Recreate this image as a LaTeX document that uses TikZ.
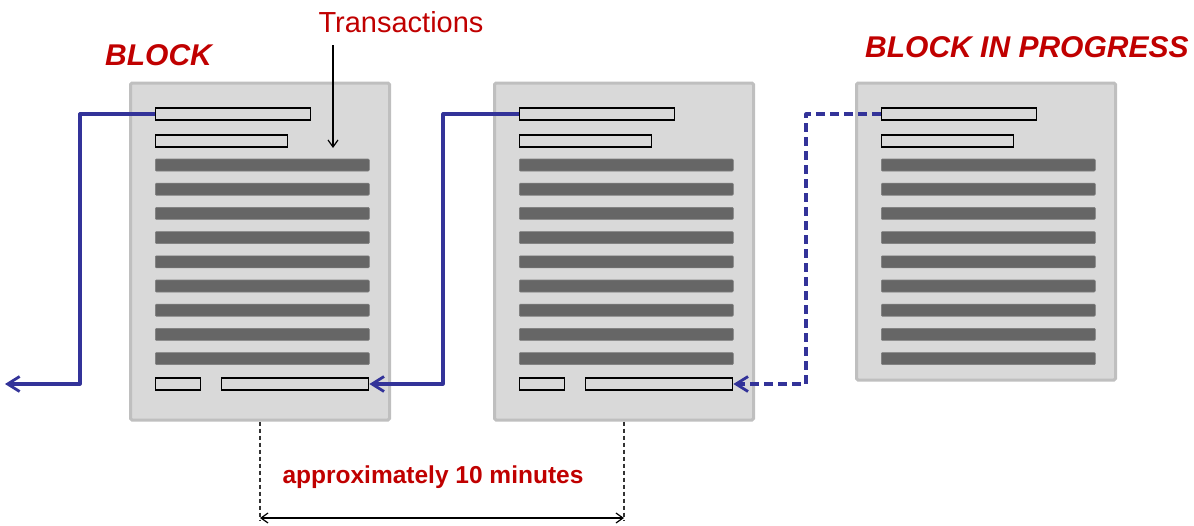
\documentclass[tikz,border=0pt]{standalone}
\usepackage{fontspec}
\setmainfont{Liberation Sans}
\usetikzlibrary{arrows.meta}
\definecolor{redtxt}{HTML}{C00000}
\definecolor{linkblue}{HTML}{333399}
\definecolor{pagefill}{HTML}{D9D9D9}
\definecolor{pageedge}{HTML}{BFBFBF}
\definecolor{bargray}{HTML}{666666}
\tikzset{
  page/.style={draw=pageedge, line width=3pt, fill=pagefill, rounded corners=1.5pt, inner sep=0pt, minimum width=259pt},
  hbar/.style={draw=black, line width=1.4pt, fill=pagefill, inner sep=0pt, minimum height=12pt, anchor=west},
  gbar/.style={fill=bargray, draw=bargray!80!pagefill, line width=0.6pt, rounded corners=1pt, inner sep=0pt, minimum height=12pt, minimum width=214pt, anchor=west},
  link/.style={draw=linkblue, line width=3.2pt, line join=round},
  linkdash/.style={link, dash pattern=on 9pt off 5pt},
  tip/.style={-{Straight Barb[length=12pt,width=15pt,line width=2.8pt]}},
  smalltip/.style={Straight Barb[length=7pt,width=10pt,line width=1.2pt]},
  redlabel/.style={text=redtxt, inner sep=0pt},
}
\begin{document}
\begin{tikzpicture}[x=1pt,y=-1pt]
\useasboundingbox (0,0) rectangle (1194,525);
% pages
\node[page, minimum height=337pt] (b1) at (260,251.5) {};
\node[page, minimum height=337pt] (b2) at (624,251.5) {};
\node[page, minimum height=297pt] (b3) at (986,231.5) {};
% contents
\foreach \blk/\dx in {1/0,2/364,3/726}{
  \node[hbar, minimum width=155pt] (b\blk h1) at (155+\dx,114) {};
  \node[hbar, minimum width=132pt] (b\blk h2) at (155+\dx,141) {};
  \foreach \i in {0,...,8}{
    \node[gbar] (b\blk g\i) at (155+\dx,165+24.2*\i) {};
  }
}
\foreach \blk/\dx in {1/0,2/364}{
  \node[hbar, minimum width=45pt] (b\blk f1) at (155+\dx,384) {};
  \node[hbar, minimum width=147pt] (b\blk f2) at (221+\dx,384) {};
}
% links
\coordinate (out) at (5,384);
\draw[link, tip] (b1h1.west) -- (80,114) |- (out);
\draw[link, tip] (b2h1.west) -- (443,114) |- (b1f2.east);
\draw[linkdash, tip] (b3h1.west) -- (806,114) |- (b2f2.east);
% labels
\node[redlabel, font=\fontsize{29}{32}\selectfont, anchor=base] (trans) at (401,32) {Transactions};
\node[redlabel, font=\fontsize{30}{33}\selectfont\bfseries\itshape, anchor=base west] (lblock) at (105,65) {BLOCK};
\node[redlabel, font=\fontsize{30}{33}\selectfont\bfseries\itshape, anchor=base west] (lprog) at (865,57) {BLOCK IN PROGRESS};
\coordinate (ttop) at (333,45);
\coordinate (tbot) at (333,148);
\draw[line width=1.2pt, -{Straight Barb[length=7pt,width=10pt,line width=1.2pt]}] (ttop) -- (tbot);
% dimension
\coordinate (d1) at (b1.south |- 0,521);
\coordinate (d2) at (b2.south |- 0,521);
\draw[line width=1.1pt, dash pattern=on 4pt off 3pt, black!80] (b1.south) -- (d1);
\draw[line width=1.1pt, dash pattern=on 4pt off 3pt, black!80] (b2.south) -- (d2);
\draw[line width=1.2pt, {Straight Barb[length=7pt,width=10pt,line width=1.2pt]}-{Straight Barb[length=7pt,width=10pt,line width=1.2pt]}] (b1.south |- 0,518) -- (b2.south |- 0,518);
\node[redlabel, font=\fontsize{24.5}{28}\selectfont\bfseries, anchor=base] (dimlbl) at (433,483) {approximately 10 minutes};
\end{tikzpicture}
\end{document}
